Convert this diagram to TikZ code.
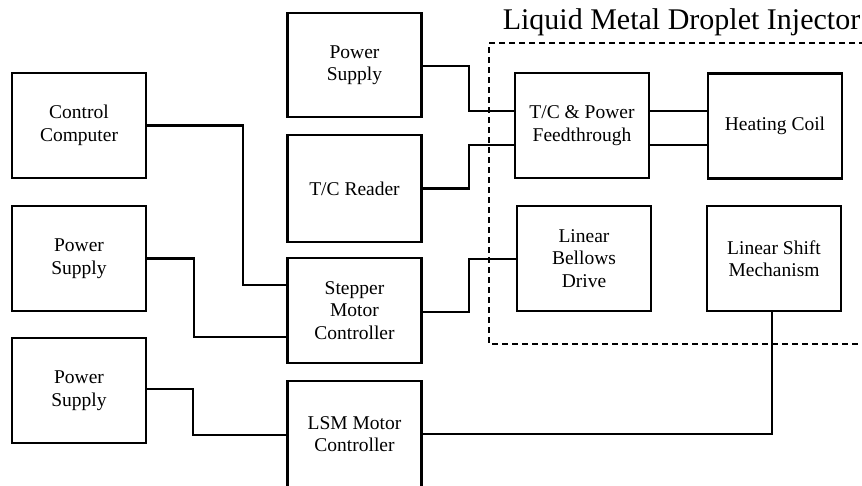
\documentclass[tikz,border=0pt]{standalone}
\usepackage{fontspec}
\setmainfont{Liberation Serif}
\begin{document}
\begin{tikzpicture}[x=1pt,y=-1pt,
  blk/.style={draw=black,line width=2.4pt,minimum width=134pt,minimum height=105pt,
    inner sep=0pt,align=center,font=\fontsize{19.5}{22.5}\selectfont},
  wire/.style={line width=2.2pt,line join=miter},
  frame/.style={line width=1.6pt,dash pattern=on 6pt off 4pt}]
\clip (0,0) rectangle (862,485);
\fill[white] (0,0) rectangle (862,485);
% title
\node[font=\fontsize{30}{34}\selectfont,inner sep=0pt] (title) at (681.5,22) {Liquid Metal Droplet Injector};
% dashed frame
\draw[frame] (875,43) -- (489,43) -- (489,344) -- (875,344);
% boxes
\node[blk] (cc)  at (79,125.5) {Control\\Computer};
\node[blk] (ps1) at (79,258.5) {Power\\Supply};
\node[blk] (ps2) at (79,390.5) {Power\\Supply};
\node[blk,minimum height=104pt] (ps0) at (354.5,65) {Power\\Supply};
\node[blk,minimum height=107pt] (tcr) at (354.5,188.5) {T/C Reader};
\node[blk] (smc) at (354.5,310.5) {Stepper\\Motor\\Controller};
\node[blk,minimum height=106pt] (lsm) at (354.5,434) {LSM Motor\\Controller};
\node[blk] (tcf) at (582,125.5) {T/C \& Power\\Feedthrough};
\node[blk] (hc)  at (775,126) {Heating Coil};
\node[blk] (lbd) at (584,258.5) {Linear\\Bellows\\Drive};
\node[blk] (lsh) at (774,258.5) {Linear Shift\\Mechanism};
% connectors
\draw[wire] (ps0.east |- 0,66) -- (469,66) -- (469,111) -- (tcf.west |- 0,111);
\draw[wire] (tcr.east) -- (469,188.5) -- (469,145) -- (tcf.west |- 0,145);
\draw[wire] (tcf.east |- 0,111) -- (hc.west |- 0,111);
\draw[wire] (tcf.east |- 0,145) -- (hc.west |- 0,145);
\draw[wire] (cc.east) -- (243,125.5) -- (243,285) -- (smc.west |- 0,285);
\draw[wire] (ps1.east) -- (194,258.5) -- (194,337) -- (smc.west |- 0,337);
\draw[wire] (ps2.east |- 0,389) -- (193,389) -- (193,435) -- (lsm.west |- 0,435);
\draw[wire] (smc.east |- 0,312) -- (469,312) -- (469,259) -- (lbd.west |- 0,259);
\draw[wire] (lsm.east |- 0,434) -- (772,434) -- (lsh.south -| 772,0);
\end{tikzpicture}
\end{document}
